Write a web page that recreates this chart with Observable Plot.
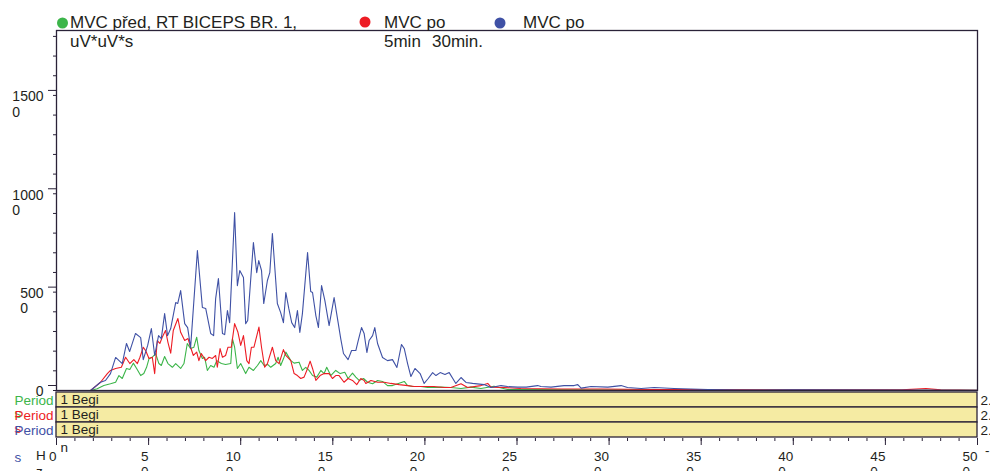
<!DOCTYPE html>
<html><head><meta charset="utf-8">
<script src="https://cdn.jsdelivr.net/npm/d3@7"></script>
<script src="https://cdn.jsdelivr.net/npm/@observablehq/plot@0.6"></script>
<style>
body{margin:0;background:#fff;}
#wrap{position:relative;width:990px;height:471px;overflow:hidden;font-family:"Liberation Sans",Arial,sans-serif;}
#wrap > svg{display:block;}
#overlay{position:absolute;left:0;top:0;pointer-events:none;}
</style></head><body><div id="wrap"></div>
<script>
// ---- data ----
const seriesNames = ["MVC před, RT BICEPS BR. 1,", "MVC po 5min", "MVC po 30min."];
const seriesColors = ["#3cb54a", "#ed1c24", "#3f51a5"];
// [frequency Hz, value uV*uV*s]
const green = [[0,0],[18.5,0],[22.1,90],[25.7,250],[29.3,340],[32.1,420],[33.9,760],[35.7,610],[38.0,1120],[39.8,1070],[41.7,1390],[43.5,1120],[45.7,760],[47.4,860],[48.9,1180],[50.2,1610],[52.0,1690],[53.8,1880],[55.6,1370],[56.9,1270],[58.7,1730],[60.5,1370],[62.9,1180],[64.7,1370],[67.4,1120],[69.2,1370],[71.0,2390],[72.8,2130],[74.6,2200],[76.1,2710],[77.3,2030],[79.2,1630],[80.4,1690],[81.9,1020],[83.7,1270],[85.5,1180],[87.0,1520],[89.5,1370],[91.8,1320],[94.6,1370],[95.5,2640],[96.7,2200],[98.2,1120],[100.0,1370],[102.7,860],[104.5,1180],[106.9,1020],[109.1,1270],[110.9,1520],[112.7,1270],[114.8,1320],[116.3,1180],[119.0,1370],[120.3,1690],[121.7,1270],[123.2,1610],[124.5,1950],[127.2,1520],[129.0,1390],[131.7,1440],[133.5,1020],[135.3,1180],[137.1,1020],[139.0,760],[141.3,680],[143.5,1020],[145.3,860],[146.7,1180],[148.9,760],[151.6,1020],[154.0,860],[156.5,930],[158.3,610],[160.7,880],[162.5,680],[164.3,510],[166.7,610],[168.9,420],[171.6,340],[174.3,510],[177.0,460],[179.7,250],[182.4,250],[185.2,340],[188.8,460],[190.6,250],[193.3,200],[197.8,200],[201.5,150],[205.1,150],[208.7,170],[214.1,150],[219.6,100],[225,170],[230.4,100],[237.5,220],[244.9,50],[263,50],[296,30],[350,30],[404,20],[500,10]];
const red = [[0,0],[18.5,0],[23.9,420],[27.6,860],[29.3,1020],[32.1,1120],[35.2,1180],[37.5,1690],[39.8,1370],[42.0,1570],[43.9,1370],[45.3,1690],[47.1,2200],[48.4,2030],[50.2,1630],[52.0,1690],[53.3,860],[54.7,2540],[56.1,2390],[57.4,2710],[59.2,3050],[60.5,2450],[62.0,1900],[63.4,3050],[65.9,3660],[67.4,2960],[69.6,2540],[71.4,2640],[72.8,2200],[74.3,1780],[76.1,1950],[77.3,1520],[78.6,1880],[81.0,1520],[82.8,1690],[84.6,1630],[86.4,1780],[87.3,1180],[88.8,2130],[90.1,1690],[91.8,1780],[93.1,2200],[94.9,2200],[96.7,3400],[98.5,2960],[100.0,2290],[101.5,2790],[103.3,1520],[104.5,1370],[105.8,2200],[107.2,2200],[109.9,3220],[111.3,2200],[113.0,1180],[114.5,1370],[117.2,2200],[119.0,1520],[120.8,1370],[123.2,2080],[124.5,1780],[127.2,1520],[129.0,860],[130.8,760],[132.6,610],[134.4,680],[136.3,1120],[137.7,1490],[139.0,1120],[140.8,510],[143.1,760],[145.3,860],[148.0,860],[149.8,610],[151.6,760],[153.4,760],[156.1,420],[158.3,610],[160.7,510],[163.0,300],[165.2,610],[167.0,510],[167.9,360],[170.7,510],[174.3,420],[177.9,420],[181.5,360],[186.0,300],[190.6,250],[194.2,200],[198.7,200],[201.5,200],[204.9,200],[210.5,150],[214.1,150],[219.6,340],[223.2,150],[230.4,250],[234.1,360],[235.9,170],[242.9,150],[252,100],[274,80],[296,80],[323,50],[350,50],[404,30],[459,30],[472,100],[480,30],[500,10]];
const blue = [[0,0],[10,0],[18.5,0],[23.9,420],[26.6,510],[29.3,860],[32.1,1680],[35.7,1370],[38.0,2390],[39.7,1980],[42.9,2900],[45.7,2690],[47.1,1570],[49.5,2290],[51.5,3150],[53.3,1780],[55.4,2790],[56.9,2640],[58.7,3910],[60.3,2790],[62.0,3150],[64.7,4470],[65.8,4420],[67.4,5080],[69.6,3400],[71.2,3200],[72.8,2180],[76.5,7110],[79.2,4220],[81.0,4170],[83.7,2900],[85.3,2790],[86.4,4670],[87.9,5690],[90.1,2900],[91.3,2840],[92.8,4060],[94.0,3450],[96.7,9040],[98.2,5330],[99.5,6100],[101.5,5740],[102.7,3400],[103.8,3560],[106.9,7520],[108.7,5990],[109.8,6600],[111.3,6100],[112.5,4420],[114.5,5590],[115.8,5990],[117.2,7980],[119.9,4420],[121.7,3960],[123.2,3450],[124.5,4980],[126.1,4170],[127.7,3450],[129.3,3200],[130.8,4060],[132.1,2950],[133.5,3910],[136.3,7010],[138.0,5030],[139.0,4980],[140.8,3810],[142.2,3200],[143.9,5330],[145.7,4570],[148.0,3300],[150.7,4720],[152.9,3450],[154.3,2640],[155.8,1880],[158.3,1570],[160.2,2030],[162.5,2030],[163.8,2540],[165.6,3200],[167.0,2900],[168.5,1930],[169.7,2540],[171.6,2790],[172.8,3200],[174.3,2390],[177.0,1680],[179.7,1520],[182.4,1570],[184.8,1170],[187.3,2340],[188.8,2130],[190.6,1370],[192.4,710],[194.6,1120],[197.4,860],[199.6,360],[201.8,610],[204.2,910],[206.0,760],[208.3,910],[210.9,810],[213.2,910],[216.8,360],[219.6,660],[222.3,410],[225.9,360],[232.1,300],[235.9,150],[241.3,250],[244.9,200],[250.4,170],[255,170],[261.2,250],[263,200],[268.5,170],[275.5,250],[281,250],[283,300],[284.8,120],[290.2,200],[299.3,170],[306.5,250],[310,150],[317.4,100],[324.5,150],[335.3,100],[353.6,50],[371.7,20],[400,30],[450,20],[500,10]];
const yTicks = [0, 5000, 10000, 15000];
const yMinorTicks = d3.range(0, 18001, 1000);
const xTicks = d3.range(0, 501, 50);
const xMinorTicks = d3.range(0, 501, 10);
const periodLeft = ["Period\ns", "Period\ns", "Period\n\ns"];
const periodInner = ["1 Begi\nn", "1 Begi\nn", "1 Begi\nn"];
const periodRight = ["2.", "2.", "2."];
const periodStart = [0, 0, 0];
const periodEnd = [500, 500, 500];

// ---- build ----
const FONT = '"Liberation Sans", Arial, sans-serif';
const ink = "#231f20";
const frameInk = "#2a2238";
const bandFill = "#f5eba3";
const rows = [green, red, blue].flatMap((s, i) => s.map(([hz, v]) => ({series: seriesNames[i], hz, v})));
const wrapLabel = v => { const s = String(v); if (s.length < 2) return s; return s.slice(0, -1) + "\n" + s.slice(-1) + "\u2007".repeat(s.length - 2); };

const wrap = document.getElementById("wrap");
const main = Plot.plot({
  width: 990, height: 391, marginLeft: 56, marginRight: 13, marginTop: 30, marginBottom: 1,
  style: {fontFamily: FONT, fontSize: "13.5px", color: ink, background: "transparent", overflow: "visible"},
  x: {domain: [0, 500], axis: null},
  y: {domain: [0, 18300], axis: null},
  color: {domain: seriesNames, range: seriesColors},
  marks: [
    Plot.line(rows, {x: "hz", y: "v", z: "series", stroke: "series", strokeWidth: 1.1}),
    Plot.axisY(yMinorTicks, {tickSize: 3, tickFormat: () => "", stroke: frameInk, label: null}),
    Plot.axisY(yTicks, {tickSize: 8, tickPadding: 5, tickFormat: wrapLabel, lineAnchor: "top", dy: -5, lineHeight: 1.1, fontSize: 14, fill: ink, stroke: frameInk, label: null}),
    Plot.frame({stroke: frameInk, strokeWidth: 1.3})
  ]
});
wrap.appendChild(main);

const periods = periodLeft.map((t, i) => ({row: i, left: t, inner: periodInner[i], right: periodRight[i], start: periodStart[i], end: periodEnd[i], color: seriesColors[i]}));
const bands = Plot.plot({
  width: 990, height: 80, marginLeft: 56, marginRight: 13, marginTop: 0, marginBottom: 33,
  style: {fontFamily: FONT, fontSize: "13.5px", color: ink, background: "transparent", overflow: "visible"},
  x: {domain: [0, 500], axis: null},
  y: {type: "band", domain: d3.range(periods.length), padding: 0, axis: null},
  marks: [
    ...periods.flatMap(p => [
      Plot.barX([p], {x1: "start", x2: "end", y: "row", fill: bandFill, stroke: frameInk, strokeWidth: 1.3}),
      Plot.text([p], {y: "row", text: "inner", frameAnchor: "left", textAnchor: "start", dx: 4, lineAnchor: "top", dy: -8.5, lineHeight: 1.3, fill: ink}),
      Plot.text([p], {y: "row", text: "left", frameAnchor: "left", textAnchor: "start", dx: -42, lineAnchor: "top", dy: -5, lineHeight: 1.0, fill: p.color}),
      Plot.text([p], {y: "row", text: "right", frameAnchor: "right", textAnchor: "start", dx: 3, lineAnchor: "top", dy: -5, fill: ink})
    ]),
    Plot.axisX(xMinorTicks, {tickSize: 3, tickFormat: () => "", stroke: frameInk, label: null}),
    Plot.axisX(xTicks, {tickSize: 7, tickPadding: 4, tickFormat: wrapLabel, textAnchor: "end", lineHeight: 1.15, fill: ink, stroke: frameInk, label: null})
  ]
});
wrap.appendChild(bands);

// ---- legend & annotations overlay ----
const ov = d3.select(wrap).append("svg").attr("id", "overlay").attr("width", 990).attr("height", 471)
  .style("font-family", FONT).style("fill", ink);
[[62.5, 23], [365, 22], [500, 23]].forEach(([cx, cy], i) => {
  ov.append("circle").attr("cx", cx).attr("cy", cy).attr("r", 5.5).attr("fill", seriesColors[i]);
});
const t = (x, y, s, size) => ov.append("text").attr("x", x).attr("y", y).attr("font-size", size).text(s);
t(70, 28, "MVC před, RT BICEPS BR. 1,", 17);
t(70, 47, "uV*uV*s", 17);
t(384, 28, "MVC po", 17);
t(384, 47, "5min", 17);
t(432, 47, "30min.", 17);
t(523, 28, "MVC po", 17);
t(36, 460, "H", 13.5);
t(36, 476, "z", 13.5);
t(985, 455, "-", 13.5);
</script></body></html>
